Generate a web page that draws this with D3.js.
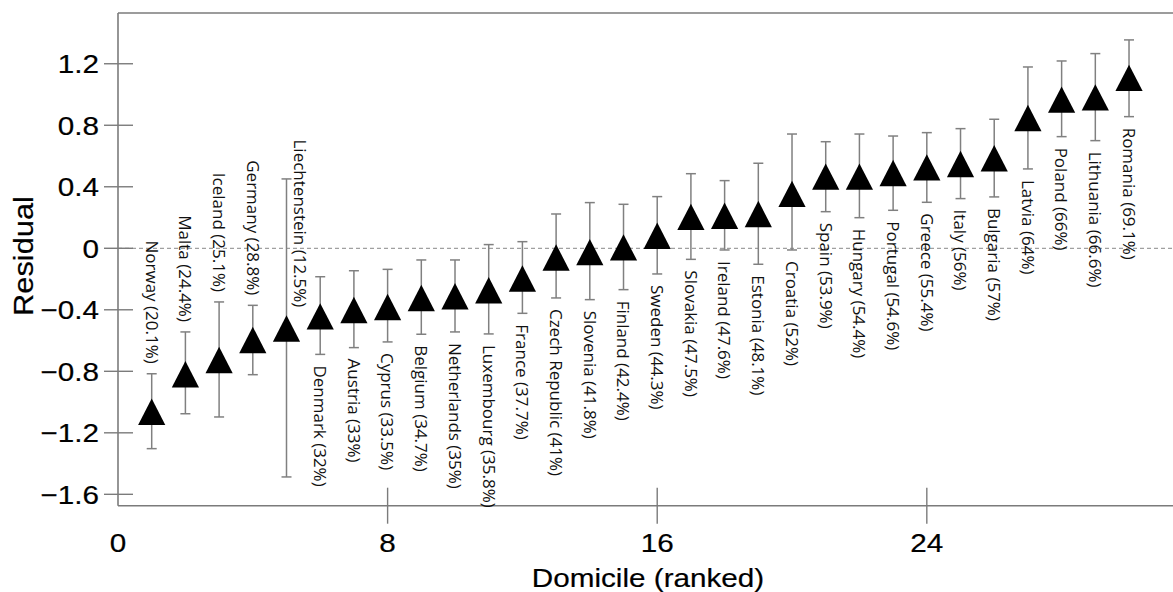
<!DOCTYPE html>
<html>
<head>
<meta charset="utf-8">
<script src="https://cdn.jsdelivr.net/npm/d3@7"></script>
<style>
  html, body { margin: 0; padding: 0; background: #fff; }
  svg { display: block; }
</style>
</head>
<body>
<svg id="chart" width="1173" height="592"></svg>
<script>
// Domiciles ranked by residual, with the share shown in each label
const countries = ["Norway", "Malta", "Iceland", "Germany", "Liechtenstein", "Denmark", "Austria",
  "Cyprus", "Belgium", "Netherlands", "Luxembourg", "France", "Czech Republic", "Slovenia",
  "Finland", "Sweden", "Slovakia", "Ireland", "Estonia", "Croatia", "Spain", "Hungary",
  "Portugal", "Greece", "Italy", "Bulgaria", "Latvia", "Poland", "Lithuania", "Romania"];
const shares = [20.1, 24.4, 25.1, 28.8, 12.5, 32, 33, 33.5, 34.7, 35, 35.8, 37.7, 41, 41.8,
  42.4, 44.3, 47.5, 47.6, 48.1, 52, 53.9, 54.4, 54.6, 55.4, 56, 57, 64, 66, 66.6, 69.1];
const residuals = [-1.063, -0.819, -0.727, -0.596, -0.522, -0.443, -0.401, -0.382, -0.323, -0.312,
  -0.273, -0.197, -0.060, -0.025, 0.006, 0.081, 0.204, 0.212, 0.223, 0.354, 0.466, 0.466,
  0.490, 0.526, 0.548, 0.585, 0.847, 0.967, 0.981, 1.108];
const ciLow = [-1.303, -1.076, -1.097, -0.822, -1.487, -0.690, -0.646, -0.609, -0.559, -0.544,
  -0.557, -0.423, -0.323, -0.334, -0.269, -0.167, -0.072, -0.011, -0.104, -0.011, 0.238, 0.199,
  0.247, 0.299, 0.323, 0.334, 0.516, 0.726, 0.700, 0.856];
const ciHigh = [-0.816, -0.544, -0.349, -0.371, 0.451, -0.185, -0.146, -0.137, -0.076, -0.076,
  0.024, 0.043, 0.223, 0.297, 0.286, 0.336, 0.485, 0.440, 0.553, 0.743, 0.693, 0.743,
  0.730, 0.752, 0.778, 0.839, 1.179, 1.218, 1.266, 1.355];
const xTicks = [0, 8, 16, 24];
const yTicks = [1.2, 0.8, 0.4, 0, -0.4, -0.8, -1.2, -1.6];

// labels drawn above the upper whisker; one sits beside its long whisker
const labelAbove = new Set(["Norway", "Malta", "Iceland", "Germany"]);
const labelBeside = new Set(["Liechtenstein"]);

const data = countries.map((name, i) => ({
  name, rank: i + 1, share: shares[i], value: residuals[i], lo: ciLow[i], hi: ciHigh[i]
}));

const svg = d3.select("#chart");
const plotLeft = 118, plotRight = 1173, plotTop = 13, plotBottom = 505.7;
const x = d3.scaleLinear().domain([0, 31.305]).range([plotLeft, plotRight]);
const y = d3.scaleLinear().domain([-1.674, 1.530]).range([plotBottom, plotTop]);

const axisColor = "#7b7b7b";
const sansWide = "'Liberation Sans', Arial, Helvetica, sans-serif";
const stretch = 1.12;

// slightly heavier rendering for the axis texts
const axisText = sel => sel
  .attr("font-family", sansWide).attr("fill", "#000")
  .attr("stroke", "#000").attr("stroke-width", 0.2);

// frame: top and bottom rules plus the left axis
svg.append("line").attr("x1", plotLeft).attr("x2", plotRight).attr("y1", plotTop).attr("y2", plotTop)
  .attr("stroke", axisColor).attr("stroke-width", 1.6);
svg.append("line").attr("x1", plotLeft).attr("x2", plotRight).attr("y1", plotBottom).attr("y2", plotBottom)
  .attr("stroke", axisColor).attr("stroke-width", 1.6);
svg.append("line").attr("x1", plotLeft).attr("x2", plotLeft).attr("y1", plotTop).attr("y2", plotBottom)
  .attr("stroke", axisColor).attr("stroke-width", 1.6);

// zero reference line
svg.append("line").attr("x1", plotLeft).attr("x2", plotRight).attr("y1", y(0)).attr("y2", y(0))
  .attr("stroke", "#a0a0a0").attr("stroke-width", 1.2).attr("stroke-dasharray", "4,3");

// y ticks cross the axis
const yAxisG = svg.append("g");
yAxisG.selectAll("line").data(yTicks).join("line")
  .attr("x1", plotLeft - 14).attr("x2", plotLeft + 15)
  .attr("y1", d => y(d)).attr("y2", d => y(d))
  .attr("stroke", axisColor).attr("stroke-width", 1.4);
yAxisG.selectAll("text").data(yTicks).join("text")
  .attr("transform", d => `translate(99,${y(d)}) scale(${stretch},1)`)
  .attr("dy", "0.36em").attr("text-anchor", "end")
  .attr("font-size", 26.5)
  .call(axisText)
  .text(d => d === 0 ? "0" : d3.format(".1f")(d));

// x ticks cross the axis
const xAxisG = svg.append("g");
xAxisG.selectAll("line").data(xTicks.filter(d => d > 0)).join("line")
  .attr("x1", d => x(d)).attr("x2", d => x(d))
  .attr("y1", plotBottom - 18).attr("y2", plotBottom + 18)
  .attr("stroke", axisColor).attr("stroke-width", 1.4);
xAxisG.selectAll("text").data(xTicks).join("text")
  .attr("transform", d => `translate(${x(d)},551.5) scale(${stretch},1)`)
  .attr("text-anchor", "middle")
  .attr("font-size", 26.5)
  .call(axisText)
  .text(d => d);

// axis titles
svg.append("text")
  .attr("transform", `translate(648,586.5) scale(${stretch},1)`)
  .attr("text-anchor", "middle")
  .attr("font-size", 26.5)
  .call(axisText)
  .text("Domicile (ranked)");
svg.append("text")
  .attr("transform", `translate(33,256) rotate(-90) scale(${stretch},1)`)
  .attr("text-anchor", "middle")
  .attr("font-size", 27.5)
  .call(axisText)
  .text("Residual");

// error bars
const capHalf = 5;
const bars = svg.append("g").attr("stroke", "#808080").attr("stroke-width", 1.5).attr("fill", "none");
bars.selectAll("line.whisker").data(data).join("line").attr("class", "whisker")
  .attr("x1", d => x(d.rank)).attr("x2", d => x(d.rank))
  .attr("y1", d => y(d.lo)).attr("y2", d => y(d.hi));
bars.selectAll("line.capHi").data(data).join("line").attr("class", "capHi")
  .attr("x1", d => x(d.rank) - capHalf).attr("x2", d => x(d.rank) + capHalf)
  .attr("y1", d => y(d.hi)).attr("y2", d => y(d.hi));
bars.selectAll("line.capLo").data(data).join("line").attr("class", "capLo")
  .attr("x1", d => x(d.rank) - capHalf).attr("x2", d => x(d.rank) + capHalf)
  .attr("y1", d => y(d.lo)).attr("y2", d => y(d.lo));

// triangle markers centred on each residual
const triW = 13.6, triH = 13.2;
const triangle = (cx, cy) =>
  `M${cx},${cy - triH}L${cx + triW},${cy + triH}L${cx - triW},${cy + triH}Z`;
svg.append("g").selectAll("path").data(data).join("path")
  .attr("d", d => triangle(x(d.rank), y(d.value)))
  .attr("fill", "#000");

// rotated country labels
const labelFont = "'Open Sans', Lato, sans-serif";
svg.append("g").selectAll("text").data(data).join("text")
  .attr("transform", d => {
    const cx = x(d.rank);
    if (labelBeside.has(d.name)) return `translate(${cx + 14},${y(d.value) - triH - 8}) rotate(90)`;
    if (labelAbove.has(d.name)) return `translate(${cx},${y(d.hi) - 10}) rotate(90)`;
    return `translate(${cx},${y(d.lo) + 11}) rotate(90)`;
  })
  .attr("text-anchor", d => (labelAbove.has(d.name) || labelBeside.has(d.name)) ? "end" : "start")
  .attr("dy", "0.36em")
  .attr("font-family", labelFont).attr("font-size", 17).attr("fill", "#111")
  .text(d => `${d.name} (${d.share}%)`);
</script>
</body>
</html>
